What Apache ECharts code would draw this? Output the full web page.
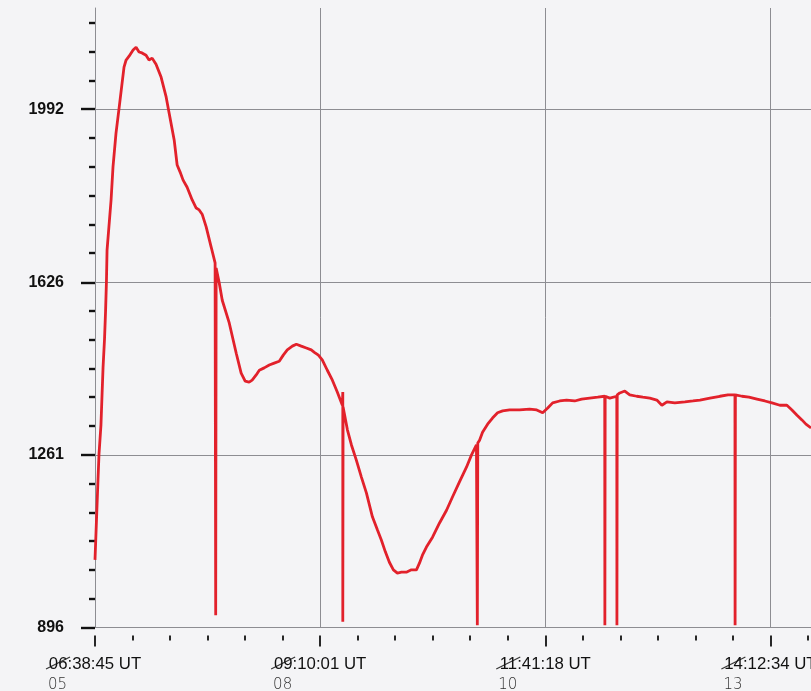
<!DOCTYPE html>
<html><head><meta charset="utf-8">
<script src="https://cdn.jsdelivr.net/npm/echarts@6/dist/echarts.min.js"></script>
<style>html,body{margin:0;padding:0;background:#f4f4f6}#c{width:811px;height:691px}</style>
</head><body><div id="c"></div><script>
// Tick labels (time of day, UT) and hand-written corrections under them
const xTickLabels = ['06:38:45 UT', '09:10:01 UT', '11:41:18 UT', '14:12:34 UT'];
const xTickNotes = ['05', '08', '10', '13'];
const yTickValues = [896, 1261, 1626, 1992];

// Trace: [minutes after 06:38:45, level]
const riseAndPeak = [[0,1039],[2.0,1208],[2.7,1263],[4.0,1324],[4.7,1385],[5.4,1445],[6.4,1506],[7.1,1565],[7.7,1629],[8.1,1694],[10.8,1800],[12.1,1870],[14.1,1941],[16.1,1992],[18.2,2047],[19.5,2081],[20.9,2096],[22.9,2104],[25.6,2117],[27.6,2123],[29.6,2113],[31.6,2111],[34.3,2106],[36.3,2096],[38.4,2100],[41.0,2087],[44.4,2060],[47.8,2018],[49.8,1984],[53.2,1927],[55.2,1874],[57.2,1859],[59.2,1842],[61.9,1827],[65.3,1800],[68.0,1783],[70.0,1779],[72.0,1770],[74.7,1743],[78.1,1700],[80.7,1667],[81.4,1656]];
const firstHump = [[83.4,1626],[85.5,1588],[90.2,1540],[94.9,1476],[98.2,1434],[100.9,1417],[103.6,1415],[105.6,1419],[108.3,1430],[110.4,1440],[113.7,1445],[117.1,1451],[120.4,1455],[123.8,1459],[126.5,1472],[129.2,1483],[132.6,1491],[135.3,1495],[138.6,1491],[142.0,1487],[145.3,1483],[147.4,1478],[150.1,1472],[152.7,1462],[156.1,1440],[159.5,1419],[162.8,1394],[166.2,1366],[166.5,1394],[166.7,1362]];
const deepDip = [[169.6,1314],[172.3,1282],[175.6,1250],[179.0,1214],[182.4,1180],[186.4,1130],[189.8,1102],[192.4,1081],[195.1,1056],[197.8,1034],[200.5,1018],[203.2,1011],[205.9,1013],[209.2,1013],[212.6,1018],[216.0,1018],[218.0,1032],[220.0,1049],[222.7,1066],[226.8,1087],[231.5,1117],[236.2,1144],[240.2,1172],[244.9,1204],[249.6,1235],[253.0,1261],[256.3,1282],[257.2,1286]];
const plateau = [[258.4,1292],[260.4,1309],[263.8,1326],[267.1,1339],[270.5,1350],[273.9,1354],[278.6,1356],[285.3,1356],[292.0,1358],[296.8,1356],[300.8,1350],[304.2,1360],[307.5,1371],[312.2,1375],[316.9,1377],[322.3,1375],[327.0,1379],[332.4,1381],[337.8,1383],[342.5,1385],[342.8,1385],[345.9,1381],[350.6,1385],[350.9,1388],[352.6,1392],[356.0,1396],[359.3,1388],[364.0,1385],[368.1,1383],[372.8,1381],[377.5,1377],[380.9,1366],[384.3,1373],[389.6,1371],[396.4,1373],[401.8,1375],[406.5,1377],[413.2,1381],[419.9,1385],[425.3,1388],[430.0,1388],[430.3,1388],[434.7,1385],[439.4,1383],[444.8,1379],[450.1,1375],[454.9,1371],[460.2,1366],[464.9,1366],[468.3,1356],[471.7,1345],[475.0,1335],[477.7,1326],[481.1,1318]];
// Pen drops (time marks) reaching down to the bottom of the chart
const penDrops = [[81.1,922],[166.5,908],[256.9,901],[342.6,901],[350.7,901],[430.1,901]];

const yMin = 896, yMax = 2206, xMax = 481.1;

function toMin(s){const p=s.split(' ')[0].split(':').map(Number);return p[0]*60+p[1]+p[2]/60;}
const t0 = toMin(xTickLabels[0]);
const xMajor = xTickLabels.map(s => +(toMin(s) - t0).toFixed(3));
const xStep = xMajor[1] / 6;
const xMinor = [];
for (let v = xStep; v <= xMax; v += xStep) { if (!xMajor.some(m => Math.abs(m - v) < 0.5)) xMinor.push(+v.toFixed(3)); }
const yStep = (yTickValues[3] - yTickValues[0]) / 18;
const yMinor = [];
for (let v = yTickValues[0] + yStep; v <= yMax; v += yStep) { if (!yTickValues.some(m => Math.abs(m - v) < 5)) yMinor.push(+v.toFixed(2)); }

const data = riseAndPeak.concat(firstHump, deepDip, plateau, penDrops).sort((a, b) => a[0] - b[0]);

const grey = '#8d8d92', ink = '#111';
const baseX = {type:'value', min:0, max:xMax, position:'bottom'};
const baseY = {type:'value', min:yMin, max:yMax, position:'left'};

const chart = echarts.init(document.getElementById('c'), null, {renderer:'canvas'});
chart.setOption({
  animation:false,
  backgroundColor:'#f4f4f6',
  grid:{left:95, right:0, top:8, bottom:63.5, containLabel:false, outerBoundsMode:'none'},
  xAxis:[
    Object.assign({}, baseX, {axisLine:{show:true, onZero:false, lineStyle:{color:grey, width:1}}, axisTick:{show:false, customValues:xMajor}, axisLabel:{show:false}, splitLine:{show:true, lineStyle:{color:grey, width:1}}}),
    Object.assign({}, baseX, {offset:8, axisLine:{show:false}, axisTick:{show:true, customValues:xMajor, length:11, lineStyle:{color:ink, width:1.8}},
      axisLabel:{show:true, customValues:xMajor, margin:18, hideOverlap:false,
        formatter:function(v){const i=xMajor.findIndex(m=>Math.abs(m-v)<0.01);return i<0?'':'{a|'+xTickLabels[i]+'}\n{b|'+xTickNotes[i]+'}';},
        rich:{a:{fontFamily:'Liberation Sans, Arial', fontSize:16.8, color:ink, lineHeight:21},
              b:{fontFamily:'DejaVu Sans', fontWeight:200, fontSize:15, color:'#333', lineHeight:21, width:94, align:'left'}}},
      splitLine:{show:false}}),
    Object.assign({}, baseX, {offset:8, axisLine:{show:false}, axisTick:{show:true, customValues:xMinor, length:5, lineStyle:{color:ink, width:1.8}}, axisLabel:{show:false}, splitLine:{show:false}})
  ],
  yAxis:[
    Object.assign({}, baseY, {axisLine:{show:true, onZero:false, lineStyle:{color:grey, width:1}}, axisTick:{show:false, customValues:yTickValues}, axisLabel:{show:false}, splitLine:{show:true, lineStyle:{color:grey, width:1}}}),
    Object.assign({}, baseY, {offset:8, axisLine:{show:false}, axisTick:{show:true, customValues:yTickValues, length:14, lineStyle:{color:ink, width:2.4}},
      axisLabel:{show:true, customValues:yTickValues, margin:23, fontFamily:'Liberation Sans, Arial', fontWeight:'bold', fontSize:16, color:ink, formatter:v=>String(Math.round(v))}, splitLine:{show:false}}),
    Object.assign({}, baseY, {offset:8, axisLine:{show:false}, axisTick:{show:true, customValues:yMinor, length:6, lineStyle:{color:ink, width:2.4}}, axisLabel:{show:false}, splitLine:{show:false}})
  ],
  series:[{type:'line', xAxisIndex:0, yAxisIndex:0, data:data, showSymbol:false, symbol:'none', smooth:false,
    lineStyle:{color:'#e2212b', width:2.8}, clip:true}]
});

// Hand-drawn strike-through over the hour digits of each time label
const strikes = xMajor.map(function(m){
  const px = chart.convertToPixel({xAxisIndex:1}, m);
  return {type:'line', shape:{x1:px-49, y1:669, x2:px-25, y2:657}, style:{stroke:'#333', lineWidth:1.1}};
});
chart.setOption({graphic:strikes});
</script></body></html>
